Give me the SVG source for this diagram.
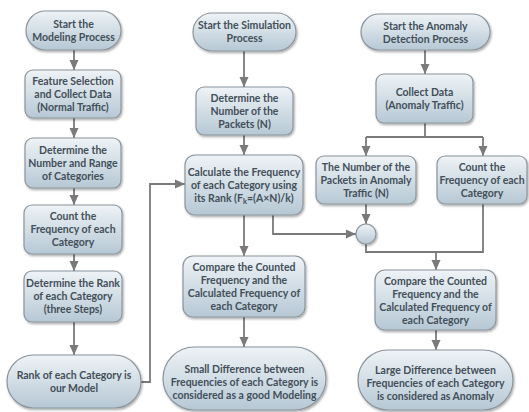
<svg xmlns="http://www.w3.org/2000/svg" width="529" height="412" viewBox="0 0 529 412">
<defs>
<linearGradient id="g" x1="0" y1="0" x2="0" y2="1">
<stop offset="0" stop-color="#eef3f6"/>
<stop offset="1" stop-color="#b6c8d5"/>
</linearGradient>
<filter id="sh" x="-10%" y="-10%" width="125%" height="130%">
<feDropShadow dx="1" dy="1.5" stdDeviation="1.2" flood-color="#000" flood-opacity="0.35"/>
</filter>
<marker id="ah" markerUnits="userSpaceOnUse" markerWidth="10" markerHeight="10" viewBox="0 0 10 10" refX="10" refY="5" orient="auto">
<path d="M0,0.5 L10,5 L0,9.5 Z" fill="#7a7a7a"/>
</marker>
<style>
.b{fill:url(#g);stroke:#8c959c;stroke-width:1.2;filter:url(#sh)}
.t{font-family:Lato,"Liberation Sans",sans-serif;font-weight:bold;font-size:10.5px;fill:#434f59;text-anchor:middle}
.c path{fill:none;stroke:#7a7a7a;stroke-width:1.8}
</style>
</defs>
<rect width="529" height="412" fill="#fff"/>
<g class="c">
<path d="M74,50 V70" marker-end="url(#ah)"/>
<path d="M74,118 V138" marker-end="url(#ah)"/>
<path d="M74,188 V205" marker-end="url(#ah)"/>
<path d="M74,254 V271" marker-end="url(#ah)"/>
<path d="M74,322 V355" marker-end="url(#ah)"/>
<path d="M141,382 H150 V184 H185" marker-end="url(#ah)"/>
<path d="M244,51 V87" marker-end="url(#ah)"/>
<path d="M244,135 V155" marker-end="url(#ah)"/>
<path d="M244,215 V256" marker-end="url(#ah)"/>
<path d="M244,317 V347" marker-end="url(#ah)"/>
<path d="M273,215 V234 H356" marker-end="url(#ah)"/>
<path d="M425,50 V74" marker-end="url(#ah)"/>
<path d="M425,123 V137"/>
<path d="M366,137 H483"/>
<path d="M366,137 V156" marker-end="url(#ah)"/>
<path d="M483,137 V156" marker-end="url(#ah)"/>
<path d="M366,204 V224" marker-end="url(#ah)"/>
<path d="M366,244 V252 H483 V204"/>
<path d="M436,252 V270" marker-end="url(#ah)"/>
<path d="M436,330 V350" marker-end="url(#ah)"/>
</g>
<g id="n1"><rect class="b" x="26" y="11" width="95" height="39" rx="19.5"/><text class="t" x="73.5" y="27.5">Start the</text><text class="t" x="73.5" y="40.5">Modeling Process</text></g>
<g id="n2"><rect class="b" x="25" y="70" width="96" height="48" rx="8"/><text class="t" x="73" y="84.5">Feature Selection</text><text class="t" x="73" y="97.5">and Collect Data</text><text class="t" x="73" y="110.5">(Normal Traffic)</text></g>
<g id="n3"><rect class="b" x="25" y="138" width="96" height="50" rx="8"/><text class="t" x="73" y="153.5">Determine the</text><text class="t" x="73" y="166.5">Number and Range</text><text class="t" x="73" y="179.5">of Categories</text></g>
<g id="n4"><rect class="b" x="24" y="205" width="98" height="49" rx="8"/><text class="t" x="73" y="220">Count the</text><text class="t" x="73" y="233">Frequency of each</text><text class="t" x="73" y="246">Category</text></g>
<g id="n5"><rect class="b" x="24" y="271" width="98" height="51" rx="8"/><text class="t" x="73" y="287">Determine the Rank</text><text class="t" x="73" y="300">of each Category</text><text class="t" x="73" y="313">(three Steps)</text></g>
<g id="n6"><rect class="b" x="7" y="355" width="134" height="53" rx="26.5"/><text class="t" x="74" y="378.5">Rank of each Category is</text><text class="t" x="74" y="391.5">our Model</text></g>
<g id="s1"><rect class="b" x="193" y="13" width="103" height="38" rx="19"/><text class="t" x="244.5" y="29">Start the Simulation</text><text class="t" x="244.5" y="42">Process</text></g>
<g id="s2"><rect class="b" x="196" y="87" width="97" height="48" rx="8"/><text class="t" x="244.5" y="101.5">Determine the</text><text class="t" x="244.5" y="114.5">Number of the</text><text class="t" x="244.5" y="127.5">Packets (N)</text></g>
<g id="s3"><rect class="b" x="185" y="155" width="118" height="60" rx="10"/><text class="t" x="244" y="175.5">Calculate the Frequency</text><text class="t" x="244" y="188.5">of each Category using</text><text class="t" x="244" y="201.5">its Rank (F<tspan font-size="7.5" dy="2">k</tspan><tspan dy="-2">=(A×N)/k)</tspan></text></g>
<g id="s4"><rect class="b" x="183" y="256" width="122" height="61" rx="10"/><text class="t" x="244" y="270.5">Compare the Counted</text><text class="t" x="244" y="283.5">Frequency and the</text><text class="t" x="244" y="296.5">Calculated Frequency of</text><text class="t" x="244" y="309.5">each Category</text></g>
<g id="s5"><rect class="b" x="163" y="347" width="163" height="63" rx="31.5"/><text class="t" x="244.5" y="372.5">Small Difference between</text><text class="t" x="244.5" y="385.5">Frequencies of each Category is</text><text class="t" x="244.5" y="398.5">considered as a good Modeling</text></g>
<g id="a1"><rect class="b" x="361" y="14" width="129" height="36" rx="18"/><text class="t" x="425.5" y="29.5">Start the Anomaly</text><text class="t" x="425.5" y="42.5">Detection Process</text></g>
<g id="a2"><rect class="b" x="376" y="74" width="97" height="49" rx="8"/><text class="t" x="424.5" y="95.5">Collect Data</text><text class="t" x="424.5" y="108.5">(Anomaly Traffic)</text></g>
<g id="a3"><rect class="b" x="316" y="156" width="100" height="48" rx="8"/><text class="t" x="366" y="170.5">The Number of the</text><text class="t" x="366" y="183.5">Packets in Anomaly</text><text class="t" x="366" y="196.5">Traffic (N)</text></g>
<g id="a4"><rect class="b" x="437" y="156" width="90" height="48" rx="8"/><text class="t" x="482" y="170.5">Count the</text><text class="t" x="482" y="183.5">Frequency of each</text><text class="t" x="482" y="196.5">Category</text></g>
<g id="j"><circle class="b" cx="366" cy="234" r="10"/></g>
<g id="a5"><rect class="b" x="375" y="270" width="121" height="60" rx="10"/><text class="t" x="435.5" y="284.5">Compare the Counted</text><text class="t" x="435.5" y="297.5">Frequency and the</text><text class="t" x="435.5" y="310.5">Calculated Frequency of</text><text class="t" x="435.5" y="323.5">each Category</text></g>
<g id="a6"><rect class="b" x="358" y="350" width="155" height="60" rx="30"/><text class="t" x="435.5" y="373.5">Large Difference between</text><text class="t" x="435.5" y="386.5">Frequencies of each Category</text><text class="t" x="435.5" y="399.5">is considered as Anomaly</text></g>
</svg>
